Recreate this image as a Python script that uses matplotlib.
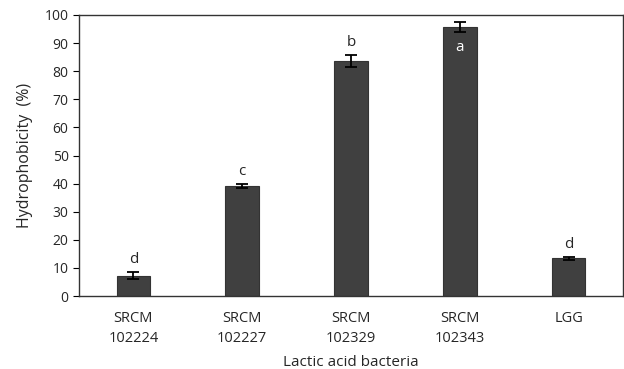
import numpy as np
import matplotlib.pyplot as plt

# Cell surface hydrophobicity of lactic acid bacteria
strains = ['SRCM\n102224', 'SRCM\n102227', 'SRCM\n102329', 'SRCM\n102343', 'LGG']
hydrophobicity = [7.2, 39.2, 83.7, 95.6, 13.4]
errors = [1.2, 0.7, 2.1, 1.8, 0.6]
letters = ['d', 'c', 'b', 'a', 'd']

plt.rcParams['font.family'] = ['Open Sans', 'DejaVu Sans']

fig = plt.figure(figsize=(6.24, 3.69), dpi=100)
ax = fig.add_axes([79 / 624, 1 - 296 / 369, 544 / 624, 281 / 369])

x = np.arange(len(strains))
ax.bar(x, hydrophobicity, width=0.31, color='#404040', edgecolor='#333333', linewidth=0.8,
       yerr=errors, capsize=4, error_kw=dict(ecolor='black', elinewidth=1.3, capthick=1.3))

for i, (v, e, lab) in enumerate(zip(hydrophobicity, errors, letters)):
    if lab == 'a':
        ax.text(i, v - 7, lab, ha='center', va='center', color='white', fontsize=11)
    else:
        ax.text(i, v + e + 4.5, lab, ha='center', va='center', color='#262626', fontsize=11)

ax.set_xlim(-0.5, 4.5)
ax.set_ylim(0, 100)
ax.set_yticks(range(0, 101, 10))
ax.set_xticks(x)
ax.set_xticklabels(strains, fontsize=10.5, color='#262626', linespacing=1.4)
ax.tick_params(axis='x', length=0, pad=11)
ax.tick_params(axis='y', direction='out', length=4, labelsize=10, labelcolor='#262626')
for s in ax.spines.values():
    s.set_color('#333333')
    s.set_linewidth(1.0)

ax.set_ylabel('Hydrophobicity  (%)', fontsize=11.5, color='#262626', labelpad=8)
ax.set_xlabel('Lactic acid bacteria', fontsize=11, color='#262626', labelpad=7)

fig.savefig('out.png', dpi=100)
